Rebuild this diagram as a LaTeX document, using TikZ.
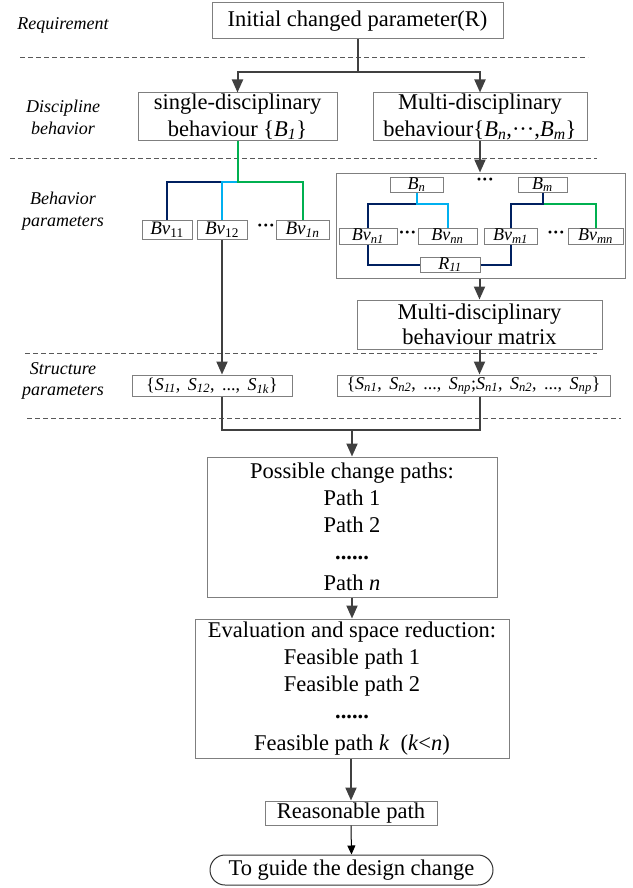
\documentclass[tikz,border=0pt]{standalone}
\usepackage{fontspec}
\setmainfont{Liberation Serif}
\usetikzlibrary{arrows.meta,calc}
\definecolor{boxgray}{HTML}{7F7F7F}
\definecolor{arrgray}{HTML}{404040}
\definecolor{navyc}{HTML}{002060}
\definecolor{lbluec}{HTML}{00B0F0}
\definecolor{lgreenc}{HTML}{00B050}
\definecolor{dashgray}{HTML}{595959}
\newcommand{\ssub}[1]{\textsubscript{\textit{#1}}}
\begin{document}
\begin{tikzpicture}[x=1pt,y=-1pt,
  box/.style={draw=boxgray, line width=1pt, inner sep=0pt, align=center},
  bigtxt/.style={font=\fontsize{22.5}{27}\selectfont},
  lbl/.style={font=\fontsize{18}{21.5}\selectfont\itshape, align=center, inner sep=0pt},
  bvtxt/.style={font=\fontsize{19}{20}\selectfont},
  smtxt/.style={font=\fontsize{18}{19}\selectfont},
  stxt/.style={font=\fontsize{18}{20}\selectfont},
  dotsn/.style={font=\fontsize{18}{20}\selectfont\bfseries, inner sep=0pt},
  arr/.style={draw=arrgray, line width=2pt, -{Triangle[length=13pt,width=11pt]}},
  thinarr/.style={draw=black, line width=1pt, -{Triangle[length=9pt,width=8pt]}},
  dline/.style={draw=arrgray, line width=2pt},
  sepline/.style={draw=dashgray, line width=0.7pt, dash pattern=on 5pt off 3pt},
  nline/.style={draw=navyc, line width=2pt},
  bline/.style={draw=lbluec, line width=2pt},
  gline/.style={draw=lgreenc, line width=2pt}
]
\useasboundingbox (0,0) rectangle (632,888);

% separators
\draw[sepline] (20,57) -- (588,57);
\draw[sepline] (10,158) -- (597,158);
\draw[sepline] (25,353) -- (597,353);
\draw[sepline] (27,418) -- (621,418);

% left labels
\node[lbl] (lreq) at (63,25) {Requirement};
\node[lbl] (ldis) at (63,117.5) {Discipline\\behavior};
\node[lbl] (lbeh) at (63,211) {Behavior\\parameters};
\node[lbl] (lstr) at (63,381) {Structure\\parameters};

% boxes
\node[box, bigtxt, minimum width=291pt, minimum height=36pt] (top) at (357.5,21) {Initial changed parameter(R)};
\node[box, bigtxt, minimum width=199pt, minimum height=47pt] (single) at (237.5,116.5) {single-disciplinary\\behaviour \{\textit{B}\ssub{1}\}};
\node[box, bigtxt, minimum width=214pt, minimum height=47pt] (multi) at (480,116.5) {Multi-disciplinary\\behaviour\{\textit{B}\ssub{n},···,\textit{B}\ssub{m}\}};

\node[box, bvtxt, minimum width=50pt, minimum height=19pt] (Bv11) at (167,229.5) {\textit{Bv}\textsubscript{11}};
\node[box, bvtxt, minimum width=50pt, minimum height=19pt] (Bv12) at (222,229.5) {\textit{Bv}\textsubscript{12}};
\node[dotsn] (d1) at (266,228) {···};
\node[box, bvtxt, minimum width=53pt, minimum height=19pt] (Bv1n) at (302.5,229.5) {\textit{Bv}\ssub{1n}};

\node[box, minimum width=289pt, minimum height=105pt] (big) at (480.5,225.5) {};
\node[box, smtxt, minimum width=53pt, minimum height=15pt] (Bn) at (416.5,184.5) {\textit{B}\ssub{n}};
\node[dotsn] (d2) at (485,182) {···};
\node[box, smtxt, minimum width=49pt, minimum height=15pt] (Bm) at (542.5,184.5) {\textit{B}\ssub{m}};
\node[box, smtxt, minimum width=58pt, minimum height=16pt] (Bvn1) at (368,236) {\textit{Bv}\ssub{n1}};
\node[dotsn] (d3) at (407.5,235) {···};
\node[box, smtxt, minimum width=59pt, minimum height=16pt] (Bvnn) at (447.5,236) {\textit{Bv}\ssub{nn}};
\node[box, smtxt, minimum width=53pt, minimum height=16pt] (Bvm1) at (510.5,236) {\textit{Bv}\ssub{m1}};
\node[dotsn] (d4) at (556,235) {···};
\node[box, smtxt, minimum width=55pt, minimum height=16pt] (Bvmn) at (595.5,236) {\textit{Bv}\ssub{mn}};
\node[box, smtxt, minimum width=60pt, minimum height=15pt] (R11) at (450,264.5) {\textit{R}\ssub{11}};

\node[box, font=\fontsize{22.5}{25.5}\selectfont, minimum width=245pt, minimum height=49pt] (matrix) at (479.5,324.5) {Multi-disciplinary\\behaviour matrix};

\node[box, stxt, minimum width=160pt, minimum height=21pt] (S1) at (212,385.5) {\{\textit{S}\ssub{11}, \,\textit{S}\ssub{12}, \,..., \,\textit{S}\ssub{1k}\}};
\node[box, stxt, minimum width=273pt, minimum height=21pt] (Sn) at (473.5,385.5) {\{\textit{S}\ssub{n1}, \,\textit{S}\ssub{n2}, \,..., \,\textit{S}\ssub{np};\textit{S}\ssub{n1}, \,\textit{S}\ssub{n2}, \,..., \,\textit{S}\ssub{np}\}};

\node[box, bigtxt, minimum width=290pt, minimum height=140pt] (paths) at (352,527) {Possible change paths:\\Path 1\\Path 2\\\textbf{......}\\[4pt]Path \textit{n}};
\node[box, bigtxt, minimum width=314pt, minimum height=139pt] (eval) at (352,688.5) {Evaluation and space reduction:\\Feasible path 1\\Feasible path 2\\\textbf{......}\\[5pt]Feasible path \textit{k}~~(\textit{k}\textless\textit{n})};
\node[box, bigtxt, minimum width=172pt, minimum height=24pt] (reason) at (351,813) {Reasonable path};
\node[draw=black!80, line width=1pt, rounded corners=15pt, inner sep=0pt, bigtxt, minimum width=283pt, minimum height=30pt] (guide) at (351.5,870) {To guide the design change};

% connectors top
\coordinate (j1) at (357.5,72);
\draw[dline] (top.south) -- (j1);
\draw[arr] (j1) -| (single.north);
\draw[arr] (j1) -| (multi.north);

% left tree
\coordinate (t1) at (237.5,182);
\draw[nline] (Bv12.north |- t1) -| (Bv11.north);
\draw[bline] (t1) -| (Bv12.north);
\draw[gline] (single.south) -- (t1) -| (Bv1n.north);

% right trees
\coordinate (tn) at (416.5,204);
\draw[nline] (tn) -| (Bvn1.north);
\draw[bline] (Bn.south) -- (tn) -| (Bvnn.north);
\coordinate (tm) at (542.5,204);
\draw[gline] (tm) -| (Bvmn.north);
\draw[nline] (Bm.south) -- (tm) -| (Bvm1.north);
\draw[nline] (Bvn1.south) |- (R11.west);
\draw[nline] (R11.east) -| (Bvm1.south);

% arrows
\draw[arr] (multi.south) -- (multi.south |- big.north);
\draw[arr] (matrix.north |- big.south) -- (matrix.north);
\draw[arr] (matrix.south) -- (matrix.south |- Sn.north);
\draw[arr] (Bv12.south) -- (Bv12.south |- S1.north);
\coordinate (j2) at (352,430);
\draw[dline] (Bv12.south |- S1.south) |- (j2);
\draw[dline] (matrix.south |- Sn.south) |- (j2);
\draw[arr] (j2) -- (paths.north);
\draw[arr] (paths.south) -- (eval.north);
\draw[arr] (eval.south -| reason.north) -- (reason.north);
\draw[thinarr] (reason.south) -- (guide.north);
\end{tikzpicture}
\end{document}
